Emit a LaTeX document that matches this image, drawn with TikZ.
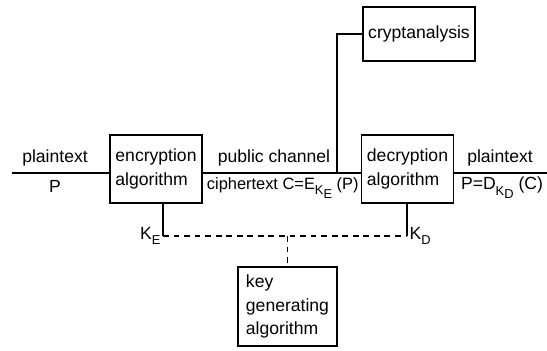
\documentclass[tikz,border=0pt]{standalone}
\usepackage{fontspec}
\setmainfont{Liberation Sans}
\usetikzlibrary{positioning}
\newcommand{\lowtag}[1]{\raisebox{-0.55ex}{\fontsize{11}{11}\selectfont #1}}

\begin{document}
\begin{tikzpicture}[x=0.03cm,y=-0.03cm,
  block/.style={draw,line width=1.2pt,minimum width=2.76cm,minimum height=2.04cm,align=left,font=\fontsize{15}{20}\selectfont,inner sep=2pt},
  tag/.style={font=\fontsize{15}{17}\selectfont,inner sep=1pt},
  wire/.style={line width=1.2pt},
  keyline/.style={line width=1.2pt,dash pattern=on 5pt off 4pt}
]
\useasboundingbox (0,0) rectangle (547,350);
\node[block] (encrypt) at (156,169) {encryption\\algorithm};
\node[block] (decrypt) at (407.5,169) {decryption\\algorithm};
\node[block,minimum width=3.36cm,minimum height=1.62cm] (crypt) at (419,34) {cryptanalysis};
\node[block,minimum width=2.97cm,minimum height=2.37cm] (keygen) at (287.5,306.5) {key\\generating\\algorithm};
% signal path
\coordinate (src) at (12,173);
\coordinate (dst) at (547,173);
\coordinate (tap) at (337,173);
\draw[wire] (src) -- (src -| encrypt.west);
\draw[wire] (src -| encrypt.east) -- (src -| decrypt.west);
\draw[wire] (src -| decrypt.east) -- (dst);
\draw[wire] (tap) |- (crypt.west);
% keys
\coordinate (ke) at (163,236);
\coordinate (kd) at (407,236);
\draw[wire] (encrypt.south -| ke) -- (ke);
\draw[wire] (decrypt.south -| kd) -- (kd);
\draw[keyline] (ke) -- (kd);
\draw[keyline] (keygen.north |- ke) -- (keygen.north);
\node[tag,left=1pt of ke] (kename) {K\lowtag{E}};
\node[tag,right=1pt of kd] (kdname) {K\lowtag{D}};
% labels
\node[tag] (ptin) at (55,158) {plaintext};
\node[tag] (pin) at (55,186) {P};
\node[tag] (chan) at (274,158) {public channel};
\node[tag,font=\fontsize{14}{17}\selectfont,anchor=east] (ctext) at (360,188) {ciphertext C=E\lowtag{K\lowtag{E}} (P)};
\node[tag] (ptout) at (500,158) {plaintext};
\node[tag] (pout) at (502,188) {P=D\lowtag{K\lowtag{D}} (C)};
\end{tikzpicture}
\end{document}
